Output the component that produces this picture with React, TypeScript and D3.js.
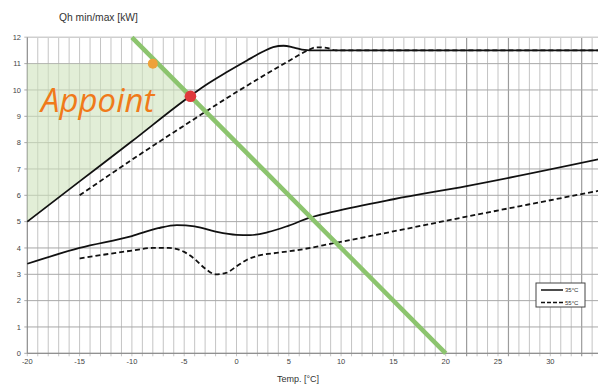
import React from "react";
import * as d3 from "d3";

const W = 598;
const H = 385;

// data
const xTicks = [-20, -15, -10, -5, 0, 5, 10, 15, 20, 25, 30];
const yTicks = [0, 1, 2, 3, 4, 5, 6, 7, 8, 9, 10, 11, 12];

const max35: [number, number][] = [
  [-20, 5.0], [-15, 6.53], [-10, 8.05], [-5, 9.6], [-3, 10.17], [-1, 10.66],
  [1, 11.12], [2.5, 11.45], [3.5, 11.63], [4.5, 11.68], [5.5, 11.61], [6.5, 11.52],
  [7.5, 11.5], [35, 11.5],
];
const max55: [number, number][] = [
  [-15, 6.0], [-10, 7.35], [-5, 8.65], [0, 9.92], [5, 11.1], [6.8, 11.5],
  [7.6, 11.62], [8.6, 11.6], [9.5, 11.5], [35, 11.5],
];
const min35: [number, number][] = [
  [-20, 3.4], [-15, 4.0], [-10, 4.45], [-7.5, 4.75], [-5.7, 4.87], [-4, 4.82],
  [-2, 4.62], [0, 4.5], [1.3, 4.49], [3, 4.6], [5, 4.85], [7, 5.15], [9.3, 5.38],
  [15, 5.85], [22, 6.35], [35, 7.4],
];
const min55: [number, number][] = [
  [-15, 3.6], [-10, 3.9], [-8, 4.0], [-6.5, 4.0], [-5, 3.85], [-4, 3.58],
  [-3, 3.22], [-2, 3.0], [-1, 3.05], [0, 3.3], [1, 3.55], [2, 3.7], [4, 3.82],
  [6, 3.93], [9.3, 4.18], [22, 5.19], [35, 6.2],
];
const greenLine: [number, number][] = [[-10, 12], [20, 0]];
const shadeArea: [number, number][] = [
  [-20, 11], [-7.5, 11], [-4.4, 9.76], [-20, 5],
];
const orangePoint: [number, number] = [-8, 11];
const redPoint: [number, number] = [-4.4, 9.76];
const darkGridX = [22, 26, 33];
const legendItems = [
  { label: "35°C", dash: "" },
  { label: "55°C", dash: "4,2" },
];

export default function App() {
  const x = d3.scaleLinear().domain([-20, 20]).range([27.3, 445.7]);
  const y = d3.scaleLinear().domain([0, 12]).range([353.3, 37.3]);
  const xMaxVal = x.invert(W);
  const gridX = d3.range(-20, Math.floor(xMaxVal) + 1, 1);

  const line = d3
    .line<[number, number]>()
    .x((d) => x(d[0]))
    .y((d) => y(d[1]))
    .curve(d3.curveMonotoneX);
  const straight = d3
    .line<[number, number]>()
    .x((d) => x(d[0]))
    .y((d) => y(d[1]));

  const font = "'Liberation Sans', Arial, sans-serif";

  return (
    <div style={{ position: "fixed", left: 0, top: 0, width: W, height: H, background: "#fff" }}>
      <svg width={W} height={H} style={{ display: "block" }}>
        <rect width={W} height={H} fill="#fff" />
        {/* vertical grid */}
        {gridX.map((t) => (
          <line
            key={"gx" + t}
            x1={x(t)}
            x2={x(t)}
            y1={y(12)}
            y2={y(0) + 3}
            stroke={darkGridX.includes(t) ? "#9c9c9c" : "#c4c4c4"}
            strokeWidth={darkGridX.includes(t) ? 1.2 : 1}
          />
        ))}
        {/* horizontal grid */}
        {yTicks.map((v) => (
          <line
            key={"gy" + v}
            x1={x(-20) - 3}
            x2={W}
            y1={y(v)}
            y2={y(v)}
            stroke={v === 12 ? "#cfcfcf" : "#a8a8a8"}
            strokeWidth={v === 12 ? 1.5 : 1}
          />
        ))}
        {/* axes */}
        <line x1={x(-20)} x2={x(-20)} y1={y(12)} y2={y(0)} stroke="#888" strokeWidth={1} />
        <line x1={x(-20)} x2={W} y1={y(0)} y2={y(0)} stroke="#888" strokeWidth={1} />

        {/* shaded area */}
        <path d={straight(shadeArea) + "Z"} fill="#cfe2bd" opacity={0.6} />

        {/* curves */}
        <path d={line(max35) || ""} fill="none" stroke="#111" strokeWidth={1.8} />
        <path d={line(max55) || ""} fill="none" stroke="#111" strokeWidth={1.8} strokeDasharray="5,3" />
        <path d={line(min35) || ""} fill="none" stroke="#111" strokeWidth={1.8} />
        <path d={line(min55) || ""} fill="none" stroke="#111" strokeWidth={1.8} strokeDasharray="5,3" />

        {/* green line */}
        <path d={straight(greenLine) || ""} fill="none" stroke="#8cc46e" strokeWidth={4.5} />

        {/* points */}
        <circle cx={x(orangePoint[0])} cy={y(orangePoint[1])} r={5} fill="#eea23a" />
        <circle cx={x(redPoint[0])} cy={y(redPoint[1])} r={5.8} fill="#e0393b" />

        {/* Appoint text */}
        <text
          x={41}
          y={112}
          fontFamily="'Open Sans', sans-serif"
          fontStyle="italic"
          fontSize={33}
          fill="#f07a1a"
        >
          Appoint
        </text>

        {/* tick labels */}
        {yTicks.map((v) => (
          <text
            key={"yl" + v}
            x={21}
            y={y(v) + 2.6}
            textAnchor="end"
            fontFamily={font}
            fontSize={7.5}
            fill="#444"
          >
            {v}
          </text>
        ))}
        {xTicks.map((t) => (
          <text
            key={"xl" + t}
            x={x(t)}
            y={364}
            textAnchor="middle"
            fontFamily={font}
            fontSize={7.5}
            fill="#444"
          >
            {t}
          </text>
        ))}

        {/* titles */}
        <text x={59} y={21} fontFamily={font} fontSize={10.3} fill="#333">
          Qh min/max [kW]
        </text>
        <text x={298} y={382} textAnchor="middle" fontFamily={font} fontSize={9} fill="#333">
          Temp. [°C]
        </text>

        {/* legend */}
        <rect x={536} y={283} width={49} height={24} fill="#fff" stroke="#444" strokeWidth={1} />
        {legendItems.map((it, i) => (
          <g key={it.label}>
            <line
              x1={541}
              x2={563}
              y1={290 + i * 12.5}
              y2={290 + i * 12.5}
              stroke="#111"
              strokeWidth={1.5}
              strokeDasharray={it.dash || undefined}
            />
            <text x={565} y={292.2 + i * 12.5} fontFamily={font} fontSize={6} fill="#333">
              {it.label}
            </text>
          </g>
        ))}
      </svg>
    </div>
  );
}
